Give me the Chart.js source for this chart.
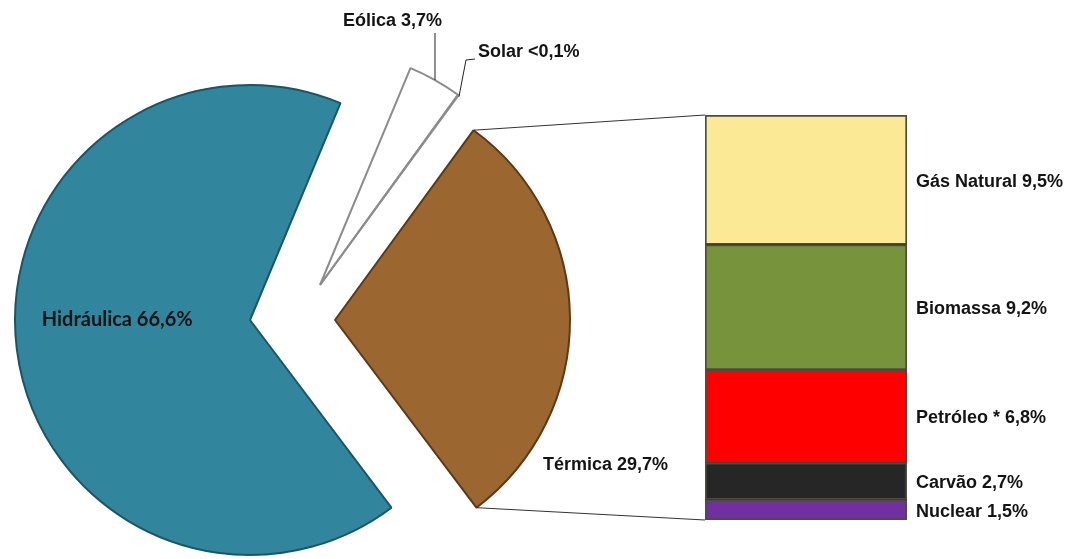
<!DOCTYPE html>
<html>
<head>
<meta charset="utf-8">
<script src="https://cdn.jsdelivr.net/npm/chart.js@4.4.1/dist/chart.umd.min.js"></script>
<style>
  html, body { margin: 0; padding: 0; background: #fff; }
  #wrap { position: relative; width: 1069px; height: 559px; }
  #wrap canvas { position: absolute; left: 0; top: 0; }
</style>
</head>
<body>
<div id="wrap">
  <canvas id="pieChart" width="1069" height="559"></canvas>
  <canvas id="barChart" width="1069" height="559"></canvas>
</div>
<script>
// matriz principal
const sources = ['Hidráulica', 'Eólica', 'Solar', 'Térmica'];
const sourceValues = [66.6, 3.7, 0.05, 29.7];
const sourceLabels = ['Hidráulica 66,6%', 'Eólica 3,7%', 'Solar <0,1%', 'Térmica 29,7%'];

// detalhe da térmica (de cima para baixo)
const thermalSources = ['Gás Natural', 'Biomassa', 'Petróleo *', 'Carvão', 'Nuclear'];
const thermalValues = [9.5, 9.2, 6.8, 2.7, 1.5];
const thermalLabels = ['Gás Natural 9,5%', 'Biomassa 9,2%', 'Petróleo * 6,8%', 'Carvão 2,7%', 'Nuclear 1,5%'];

const pieColors = ['#31859c', '#ffffff', '#ffffff', '#9c6630'];
const pieBorders = ['#1c5566', '#8c8c8c', '#8c8c8c', '#5a3a18'];
const thermalColors = ['#fbe995', '#77933c', '#ff0000', '#262626', '#7030a0'];

// deslocamento das fatias "explodidas" (px)
const explode = [[0, 0], [70, -35], [70, -35], [85, 0]];

const textFont = 'bold 18px "Liberation Sans", Arial, sans-serif';
const textColor = '#141414';

const pieLabels = {
  id: 'pieLabels',
  afterDatasetsUpdate(chart) {
    chart.getDatasetMeta(0).data.forEach((arc, i) => {
      arc.x += explode[i][0];
      arc.y += explode[i][1];
    });
  },
  afterDatasetsDraw(chart) {
    const ctx = chart.ctx;
    const arcs = chart.getDatasetMeta(0).data;
    ctx.save();
    ctx.fillStyle = textColor;
    ctx.strokeStyle = '#222';
    ctx.lineWidth = 1;
    ctx.textBaseline = 'middle';

    // Hidráulica
    const h = arcs[0];
    ctx.font = 'bold 20px Lato, "Open Sans", sans-serif';
    ctx.textAlign = 'center';
    ctx.fillText(sourceLabels[0], h.x - h.outerRadius * 0.565, h.y);

    ctx.font = textFont;
    // Eólica
    const e = arcs[1];
    const eMid = (e.startAngle + e.endAngle) / 2;
    const ex = e.x + e.outerRadius * Math.cos(eMid);
    const ey = e.y + e.outerRadius * Math.sin(eMid);
    ctx.beginPath();
    ctx.moveTo(ex, ey);
    ctx.lineTo(ex, 33);
    ctx.stroke();
    ctx.textAlign = 'right';
    ctx.fillText(sourceLabels[1], ex + 7, 21);

    // Solar
    const s = arcs[2];
    const sx = s.x + s.outerRadius * Math.cos(s.startAngle);
    const sy = s.y + s.outerRadius * Math.sin(s.startAngle);
    ctx.beginPath();
    ctx.moveTo(sx + 1, sy + 2);
    ctx.lineTo(sx + 8, 60);
    ctx.lineTo(sx + 17, 59);
    ctx.stroke();
    ctx.textAlign = 'left';
    ctx.fillText(sourceLabels[2], sx + 20, 52);

    // Térmica
    const t = arcs[3];
    ctx.fillText(sourceLabels[3], t.x + t.outerRadius * 0.885, t.y + t.outerRadius * 0.617);
    ctx.restore();
  }
};

const pieChart = new Chart(document.getElementById('pieChart'), {
  type: 'pie',
  data: {
    labels: sources,
    datasets: [{
      data: sourceValues,
      backgroundColor: pieColors,
      borderColor: pieBorders,
      borderWidth: 2,
      radius: 235
    }]
  },
  options: {
    responsive: false,
    animation: false,
    events: [],
    rotation: 143,
    layout: { padding: { left: 0, right: 569, top: 81, bottom: 0 } },
    plugins: { legend: { display: false }, tooltip: { enabled: false } }
  },
  plugins: [pieLabels]
});

const barLabels = {
  id: 'barLabels',
  afterDatasetsDraw(chart) {
    const ctx = chart.ctx;
    ctx.save();
    ctx.font = textFont;
    ctx.fillStyle = textColor;
    ctx.textAlign = 'left';
    ctx.textBaseline = 'middle';
    chart.data.datasets.forEach((ds, i) => {
      const bar = chart.getDatasetMeta(i).data[0];
      ctx.fillText(ds.text, bar.x + bar.width / 2 + 9, (bar.y + bar.base) / 2 + 2);
    });

    // linhas de ligação com a fatia Térmica
    const t = pieChart.getDatasetMeta(0).data[3];
    const R = t.outerRadius;
    const topBar = chart.getDatasetMeta(chart.data.datasets.length - 1).data[0];
    const botBar = chart.getDatasetMeta(0).data[0];
    const left = topBar.x - topBar.width / 2;
    ctx.strokeStyle = '#333';
    ctx.lineWidth = 1;
    ctx.beginPath();
    ctx.moveTo(t.x + R * Math.cos(t.startAngle), t.y + R * Math.sin(t.startAngle));
    ctx.lineTo(left, topBar.y);
    ctx.moveTo(t.x + R * Math.cos(t.endAngle), t.y + R * Math.sin(t.endAngle));
    ctx.lineTo(left, botBar.base);
    ctx.stroke();
    ctx.restore();
  }
};

// empilha de baixo (Nuclear) para cima (Gás Natural)
const barDatasets = thermalSources.map((name, i) => ({
  label: name,
  text: thermalLabels[i],
  data: [thermalValues[i]],
  backgroundColor: thermalColors[i],
  borderColor: 'rgba(45,45,30,0.85)',
  borderWidth: 2,
  borderSkipped: false
})).reverse();

const barChart = new Chart(document.getElementById('barChart'), {
  type: 'bar',
  data: { labels: ['Térmica'], datasets: barDatasets },
  options: {
    responsive: false,
    animation: false,
    events: [],
    barPercentage: 1,
    categoryPercentage: 1,
    layout: { padding: { left: 705, right: 162, top: 115, bottom: 39 } },
    scales: {
      x: { stacked: true, display: false },
      y: { stacked: true, display: false, min: 0, max: thermalValues.reduce((a, b) => a + b, 0) }
    },
    plugins: { legend: { display: false }, tooltip: { enabled: false } }
  },
  plugins: [barLabels]
});
</script>
</body>
</html>
